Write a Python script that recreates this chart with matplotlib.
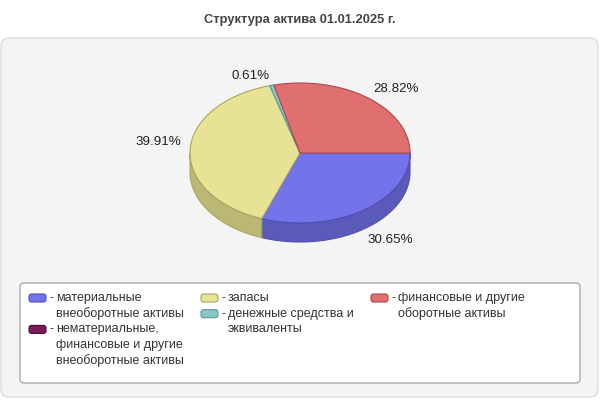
import numpy as np
import matplotlib
matplotlib.use("Agg")
import matplotlib.pyplot as plt
from matplotlib.patches import Polygon, FancyBboxPatch

plt.rcParams["font.family"] = ["Liberation Sans", "DejaVu Sans"]

# data
title = "Структура актива 01.01.2025 г."
labels = [
    "материальные\nвнеоборотные активы",
    "нематериальные,\nфинансовые и другие\nвнеоборотные активы",
    "запасы",
    "денежные средства и\nэквиваленты",
    "финансовые и другие\nоборотные активы",
]
values = [30.65, 0.0, 39.91, 0.61, 28.82]
top_colors = ["#7474ea", "#7a1b5b", "#e6e494", "#88c8c8", "#e07070"]
side_colors = ["#5a5aba", "#5a1040", "#bbb876", "#6aa4a4", "#b85858"]
edge_colors = ["#5050b0", "#500a38", "#a8a660", "#5a9898", "#b04848"]
legend_cols = [[0, 1], [2, 3], [4]]

# pie geometry (pixels)
cx, cy = 300, 153
rx, ry = 110, 70
depth = 19


def arc(a0, a1, dy=0.0, n=80):
    t = np.radians(np.linspace(a0, a1, n))
    return np.column_stack([cx + rx * np.cos(t), cy + dy + ry * np.sin(t)])


def main():
    fig = plt.figure(figsize=(6, 4), dpi=100)
    ax = fig.add_axes([0, 0, 1, 1])
    ax.set_xlim(0, 600)
    ax.set_ylim(400, 0)
    ax.axis("off")

    ax.text(300, 20, title, ha="center", va="center", fontsize=9.3,
            fontweight="bold", color="#444444")

    ax.add_patch(FancyBboxPatch((1, 38), 597, 359,
                                boxstyle="round,pad=0,rounding_size=8",
                                fc="#f4f4f4", ec="#dddddd", lw=1, zorder=0))

    total = sum(values)
    angles = np.cumsum([0] + [v / total * 360 for v in values])

    # side walls (front half only)
    for i in range(len(values)):
        a0, a1 = max(angles[i], 0), min(angles[i + 1], 180)
        if a1 > a0:
            top = arc(a0, a1)
            bot = arc(a0, a1, depth)[::-1]
            ax.add_patch(Polygon(np.vstack([top, bot]), closed=True,
                                 fc=side_colors[i], ec=edge_colors[i],
                                 lw=0.8, zorder=2))

    # top faces
    for i in range(len(values)):
        if values[i] <= 0:
            continue
        pts = np.vstack([[cx, cy], arc(angles[i], angles[i + 1])])
        ax.add_patch(Polygon(pts, closed=True, fc=top_colors[i],
                             ec=edge_colors[i], lw=0.8, zorder=3))

    # percent labels
    for i in range(len(values)):
        if values[i] <= 0:
            continue
        mid = np.radians((angles[i] + angles[i + 1]) / 2)
        c, s = np.cos(mid), np.sin(mid)
        x = cx + 1.08 * rx * c
        y = cy - 8 + 1.34 * ry * s + 22 * abs(s)
        ax.text(x, y, f"{values[i]:.2f}%", ha="left" if c > 0 else "right",
                va="center", fontsize=9.6, color="#222222", zorder=5)

    # legend
    ax.add_patch(FancyBboxPatch((20, 283), 560, 100,
                                boxstyle="round,pad=0,rounding_size=4",
                                fc="white", ec="#aaaaaa", lw=1, zorder=1))
    col_x = [29, 201, 371]
    line_h = 15.7
    for cx0, idxs in zip(col_x, legend_cols):
        y = 298
        for i in idxs:
            ax.add_patch(FancyBboxPatch((cx0, y - 4), 17, 8,
                                        boxstyle="round,pad=0,rounding_size=2.5",
                                        fc=top_colors[i], ec=edge_colors[i],
                                        lw=0.8, zorder=2))
            ax.text(cx0 + 20, y, "-", ha="left", va="center", fontsize=9,
                    color="#333333")
            lines = labels[i].split("\n")
            for k, ln in enumerate(lines):
                ax.text(cx0 + 27, y + k * line_h, ln, ha="left", va="center",
                        fontsize=9, color="#333333")
            y += len(lines) * line_h

    fig.savefig("out.png", dpi=100)


if __name__ == "__main__":
    main()
